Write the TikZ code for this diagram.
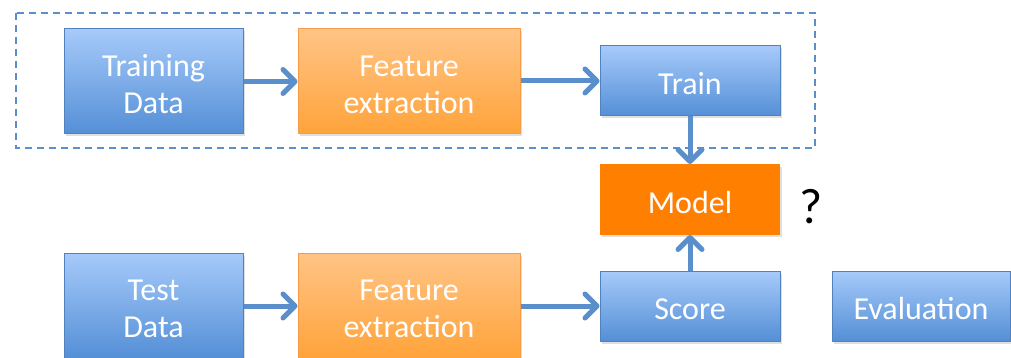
\documentclass[tikz,border=0pt]{standalone}
\usepackage{fontspec}
\setmainfont{Carlito}
\usetikzlibrary{arrows.meta,shadows}
\definecolor{bluetop}{RGB}{166,202,250}
\definecolor{bluebot}{RGB}{84,143,214}
\definecolor{blueedge}{RGB}{82,130,190}
\definecolor{orgtop}{RGB}{255,196,134}
\definecolor{orgbot}{RGB}{255,163,58}
\definecolor{orgedge}{RGB}{246,156,72}
\definecolor{modelfill}{RGB}{255,127,0}
\definecolor{flow}{RGB}{91,143,203}
\tikzset{
  boxtext/.style={align=center, text=white, inner sep=0pt,
    font=\fontsize{32}{37}\selectfont, yshift=-3pt},
  boxbase/.style={rectangle, line width=1pt, inner sep=0pt,
    drop shadow={opacity=0.25, shadow xshift=1.5pt, shadow yshift=-2.5pt}},
  bluebox/.style={boxbase, draw=blueedge, top color=bluetop, bottom color=bluebot},
  orangebox/.style={boxbase, draw=orgedge, top color=orgtop, bottom color=orgbot},
  modelbox/.style={boxbase, fill=modelfill},
  tall/.style={minimum width=179pt, minimum height=105pt},
  wide/.style={minimum width=222pt, minimum height=105pt},
  flat/.style={minimum width=180pt, minimum height=70pt},
  flowarrow/.style={draw=flow, line width=5pt,
    -{Straight Barb[length=12pt, width=24pt, line cap=round, line join=round]}},
  groupframe/.style={draw=flow, line width=1.5pt, dash pattern=on 7pt off 5pt}
}
\begin{document}
\begin{tikzpicture}[x=1pt, y=-1pt]
  \useasboundingbox (0,0) rectangle (1011,358);
  \clip (0,0) rectangle (1011,358);

  % training stage frame
  \draw[groupframe] (16,13) rectangle (815,148);

  % training row
  \node[bluebox, tall, label={[boxtext]center:{Training\\Data}}] (trd) at (153.5,81.5) {};
  \node[orangebox, wide, label={[boxtext]center:{Feature\\extraction}}] (fetr) at (409,81.5) {};
  \node[bluebox, flat, label={[boxtext]center:Train}] (train) at (690,81) {};

  % model
  \node[modelbox, flat, label={[boxtext]center:Model}] (model) at (690,199.5) {};
  \node[font=\fontsize{50}{52}\selectfont, text=black] (q) at (811,207) {?};

  % test row
  \node[bluebox, tall, label={[boxtext]center:{Test\\Data}}] (ted) at (153.5,305.5) {};
  \node[orangebox, wide, label={[boxtext]center:{Feature\\extraction}}] (fete) at (409,305.5) {};
  \node[bluebox, flat, label={[boxtext]center:Score}] (score) at (690,306) {};
  \node[bluebox, minimum width=178pt, minimum height=70pt,
        label={[boxtext]center:Evaluation}] (eval) at (921,306) {};

  % connectors
  \draw[flowarrow] (trd.east |- 0,81.5) -- (fetr.west |- 0,81.5);
  \draw[flowarrow] (fetr.east |- 0,81) -- (train.west);
  \draw[flowarrow] (train.south) -- (model.north);
  \draw[flowarrow] (ted.east |- 0,306) -- (fete.west |- 0,306);
  \draw[flowarrow] (fete.east |- 0,306) -- (score.west);
  \draw[flowarrow] (score.north) -- (model.south);
\end{tikzpicture}
\end{document}
